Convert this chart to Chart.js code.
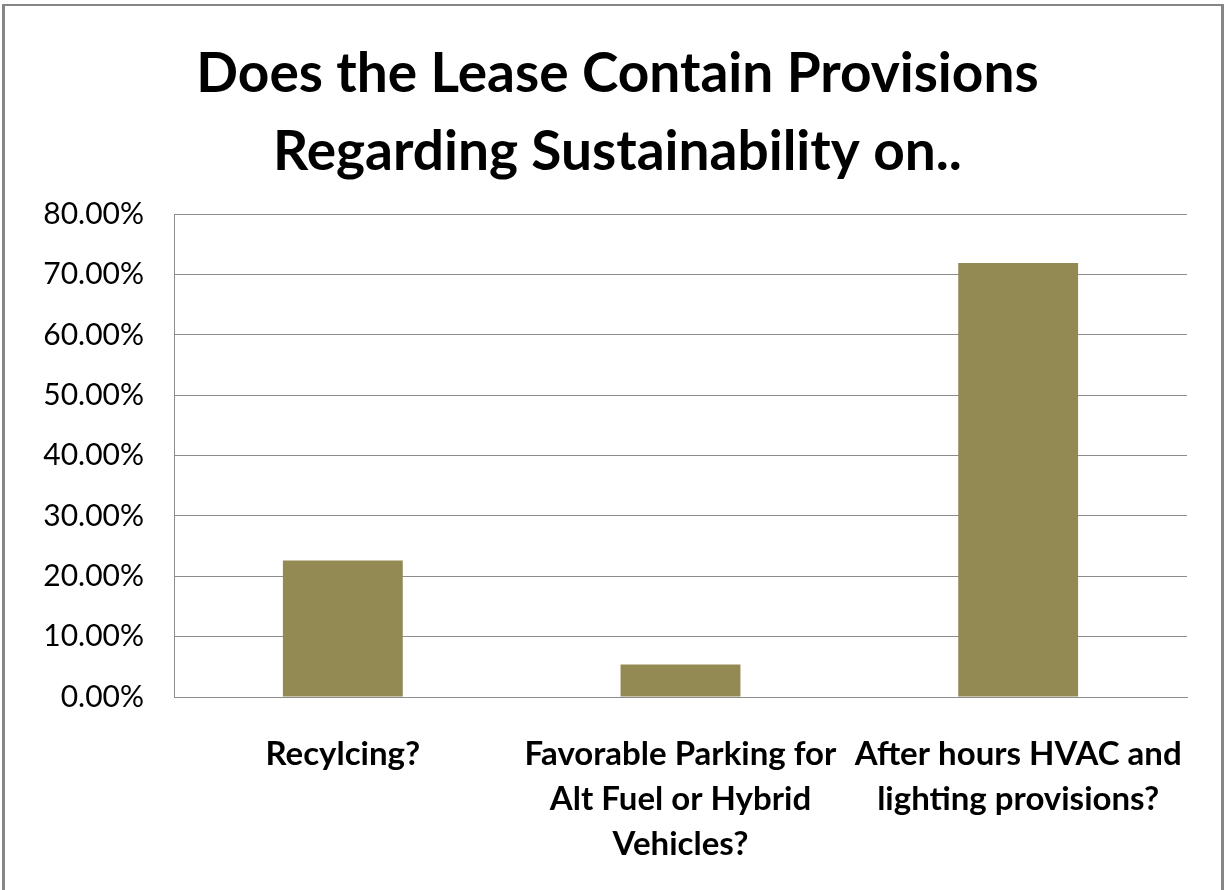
<!DOCTYPE html>
<html>
<head>
<meta charset="utf-8">
<script src="https://cdn.jsdelivr.net/npm/chart.js@4/dist/chart.umd.min.js"></script>
<style>
    body { margin: 0; background: #fff; overflow: hidden; }
    #wrap { position: absolute; left: 0; top: 0; width: 1225px; height: 890px; }
    #frame {
        position: absolute; left: 2px; top: 4px; width: 1216px; height: 900px;
        border-left: 3px solid #868686; border-top: 2px solid #868686; border-right: 3px solid #868686;
        pointer-events: none;
    }
</style>
</head>
<body>
<div id="wrap">
    <canvas id="myChart" width="1225" height="890"></canvas>
    <div id="frame"></div>
</div>
<script>
// Chart data
const titleLines = ['Does the Lease Contain Provisions', 'Regarding Sustainability on..'];
const categories = [
    ['Recylcing?'],
    ['Favorable Parking for', 'Alt Fuel or Hybrid', 'Vehicles?'],
    ['After hours HVAC and', 'lighting provisions?']
];
const values = [22.6, 5.4, 71.9];
const yMax = 80;
const yStep = 10;

const barColor = '#938953';
const gridColor = '#8c8c8c';
const fontFamily = 'Lato, "Open Sans", sans-serif';

// nudge the title a little right, it sits centred on the whole frame in the original
const titleShift = {
    id: 'titleShift',
    afterLayout(chart) {
        if (chart.titleBlock) {
            chart.titleBlock.left += 6;
            chart.titleBlock.right += 6;
        }
    }
};

const ctx = document.getElementById('myChart').getContext('2d');

new Chart(ctx, {
    type: 'bar',
    data: {
        labels: categories,
        datasets: [{
            data: values,
            backgroundColor: barColor,
            borderWidth: 0,
            barPercentage: 0.71,
            categoryPercentage: 0.5
        }]
    },
    options: {
        responsive: false,
        animation: false,
        layout: { padding: { left: 36, right: 38, top: 0, bottom: 0 } },
        plugins: {
            legend: { display: false },
            tooltip: { enabled: false },
            title: {
                display: true,
                text: titleLines,
                color: '#000',
                font: { family: fontFamily, size: 55, weight: 'bold', lineHeight: 1.42 },
                padding: { top: 35, bottom: 23 }
            }
        },
        scales: {
            x: {
                grid: { display: false, drawTicks: false },
                border: { color: gridColor, width: 1 },
                ticks: {
                    color: '#000',
                    font: { family: fontFamily, size: 33, weight: 'bold', lineHeight: 1.36 },
                    padding: 35,
                    maxRotation: 0,
                    autoSkip: false
                },
                afterFit: (scale) => { scale.height = 890 - 697; }
            },
            y: {
                min: 0,
                max: yMax,
                grid: { color: gridColor, lineWidth: 1, drawTicks: false },
                border: { color: gridColor, width: 1 },
                ticks: {
                    stepSize: yStep,
                    color: '#000',
                    font: { family: fontFamily, size: 30 },
                    padding: 30,
                    callback: (v) => v.toFixed(2) + '%'
                },
                afterFit: (scale) => { scale.width = 174 - 36; }
            }
        }
    },
    plugins: [titleShift]
});
</script>
</body>
</html>
